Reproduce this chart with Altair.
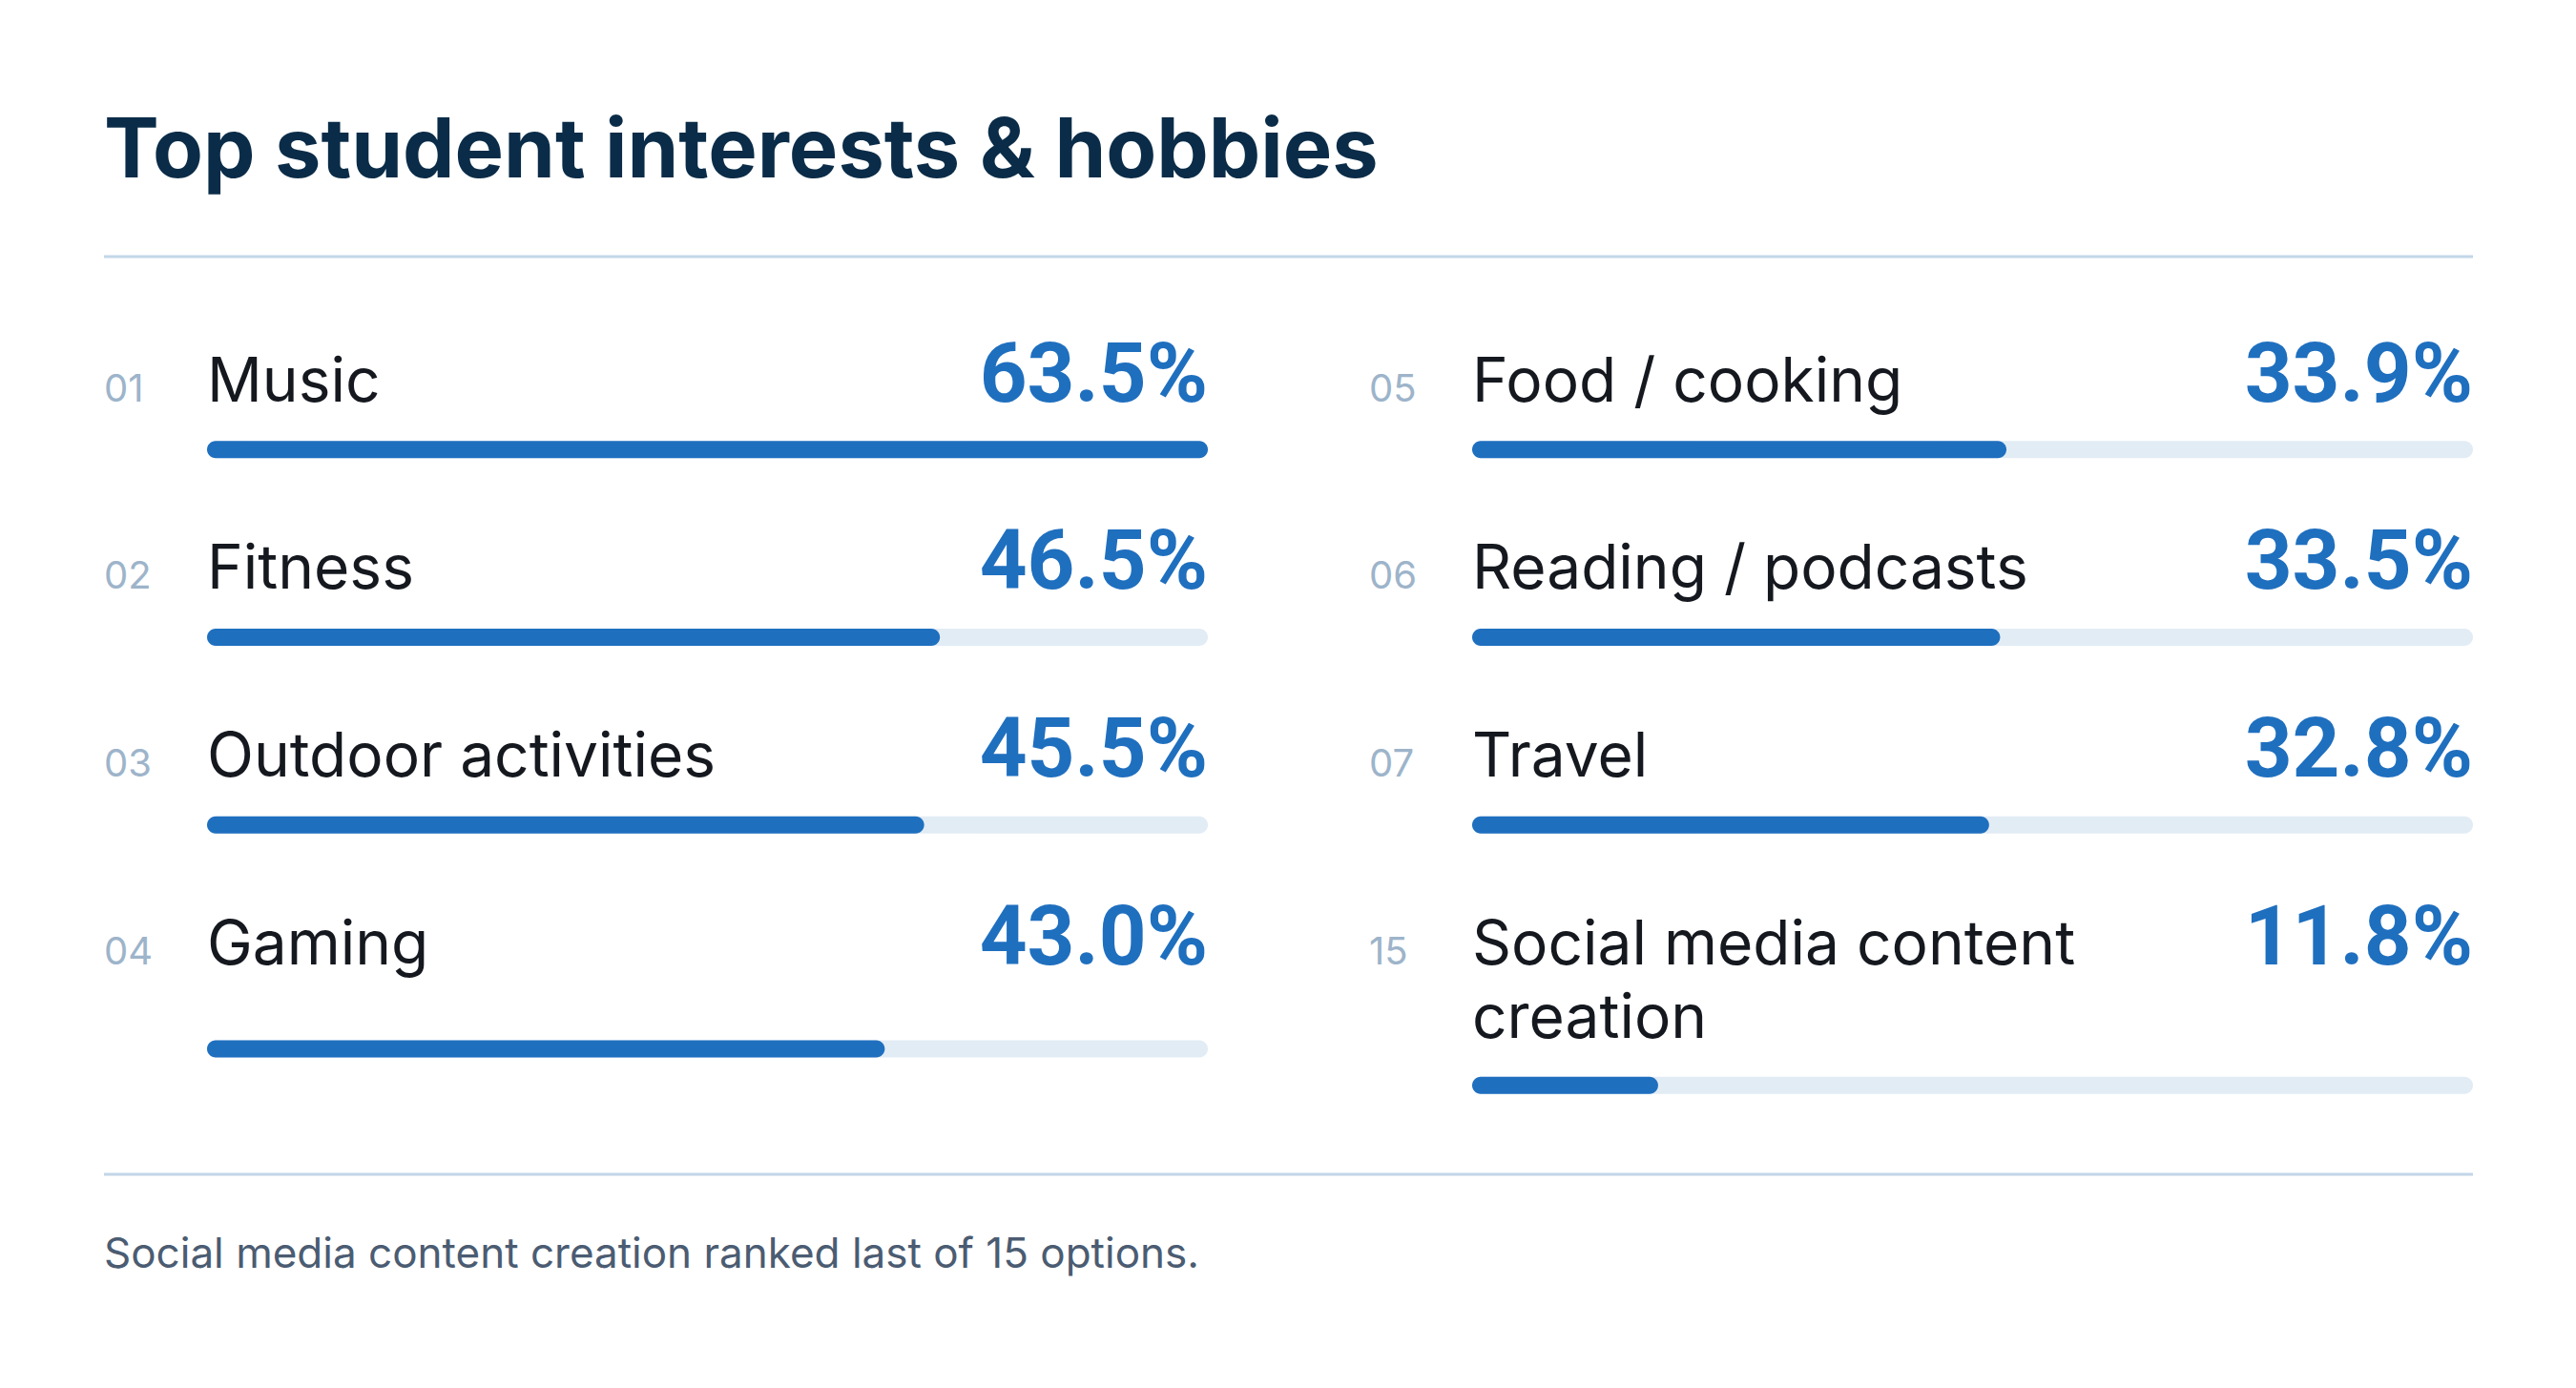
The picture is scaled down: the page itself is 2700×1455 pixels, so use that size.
import altair as alt
import pandas as pd

# data
ranks = ["01", "02", "03", "04", "05", "06", "07", "15"]
interests = [
    "Music", "Fitness", "Outdoor activities", "Gaming",
    "Food / cooking", "Reading / podcasts", "Travel",
    "Social media content\ncreation",
]
shares = [63.5, 46.5, 45.5, 43.0, 33.9, 33.5, 32.8, 11.8]

TITLE = "Top student interests & hobbies"
NOTE = "Social media content creation ranked last of 15 options."

df = pd.DataFrame({"rank": ranks, "interest": interests, "share": shares})
df["col"] = [i // 4 for i in range(len(df))]
df["row"] = [i % 4 for i in range(len(df))]

# LAYOUT / STYLE
FONT = "Inter"
TOTAL_W = 2483
PANEL_W = 1157
GAP = 169
INDENT = 108
HEADER_H = 292
BODY_H = 900
FOOT_H = 180
ROW_TOP = 117
ROW_STEP = 199
LINE_H = 77
BAR_GAP = 51
BAR_H = 18

BLUE = "#1f6fbf"
TRACK = "#e2ecf5"
RULE = "#c2d6e8"

x_scale = alt.Scale(domain=[0, max(shares)], range=[INDENT, PANEL_W], nice=False, zero=True)
y_scale = alt.Scale(domain=[0, BODY_H], range=[0, BODY_H], nice=False, zero=False)


def make_panel(c):
    base = (
        alt.Chart(df)
        .transform_calculate(
            lines="length(split(datum.interest, '\\n'))",
            pct="format(datum.share, '.1f') + '%'",
            zero="0",
        )
        .transform_joinaggregate(row_lines="max(lines)", groupby=["row"])
        .transform_joinaggregate(top_share="max(share)")
        .transform_calculate(
            text_y=f"{ROW_TOP} + {ROW_STEP} * datum.row",
            bar_y=f"datum.text_y + {BAR_GAP} + (datum.lines - 1) * {LINE_H}"
                  f" + (datum.row_lines - datum.lines) * {LINE_H} / 2",
        )
        .transform_filter(alt.datum.col == c)
    )
    y_text = alt.Y("text_y:Q", scale=y_scale, axis=None)
    y_bar = alt.Y("bar_y:Q", scale=y_scale, axis=None)

    track = base.mark_bar(height=BAR_H, cornerRadius=BAR_H / 2, color=TRACK).encode(
        x=alt.X("zero:Q", scale=x_scale, axis=None), x2="top_share:Q", y=y_bar
    )
    fill = base.mark_bar(height=BAR_H, cornerRadius=BAR_H / 2, color=BLUE).encode(
        x=alt.X("zero:Q", scale=x_scale, axis=None), x2="share:Q", y=y_bar
    )
    label = base.mark_text(
        align="left", baseline="alphabetic", font=FONT, fontSize=64,
        color="#15191f", lineBreak="\n", lineHeight=LINE_H,
    ).encode(x=alt.X("zero:Q", scale=x_scale, axis=None), y=y_text, text="interest:N")
    pct = base.mark_text(
        align="right", baseline="alphabetic", font="Roboto", fontSize=87,
        fontWeight="bold", color=BLUE,
    ).encode(x=alt.X("top_share:Q", scale=x_scale, axis=None), y=y_text, text="pct:N")
    num = base.mark_text(
        align="left", baseline="alphabetic", font=FONT, fontSize=40, color="#9db4ca",
    ).encode(x=alt.value(0), y=y_text, text="rank:N")

    return alt.layer(track, fill, label, pct, num).properties(width=PANEL_W, height=BODY_H)


one = pd.DataFrame({"title": [TITLE], "note": [NOTE]})

header = alt.layer(
    alt.Chart(one).mark_text(
        align="left", baseline="alphabetic", font=FONT, fontSize=86.5,
        fontWeight="bold", color="#0a2c48",
    ).encode(x=alt.value(0), y=alt.value(178), text="title:N"),
    alt.Chart(one).mark_rule(color=RULE, strokeWidth=3).encode(
        x=alt.value(0), x2=alt.value(TOTAL_W), y=alt.value(261)
    ),
).properties(width=TOTAL_W, height=HEADER_H)

footer = alt.layer(
    alt.Chart(one).mark_rule(color=RULE, strokeWidth=3).encode(
        x=alt.value(0), x2=alt.value(TOTAL_W), y=alt.value(31)
    ),
    alt.Chart(one).mark_text(
        align="left", baseline="alphabetic", font=FONT, fontSize=44, color="#4b5c72",
    ).encode(x=alt.value(0), y=alt.value(129), text="note:N"),
).properties(width=TOTAL_W, height=FOOT_H)

body = alt.hconcat(make_panel(0), make_panel(1), spacing=GAP, bounds="flush")

chart = (
    alt.vconcat(header, body, footer, spacing=0)
    .properties(padding={"left": 99, "top": 0, "right": 0, "bottom": 0}, background="white")
    .configure_view(stroke=None)
)

chart.save("out.html", embed_options={"renderer": "svg", "actions": False})
